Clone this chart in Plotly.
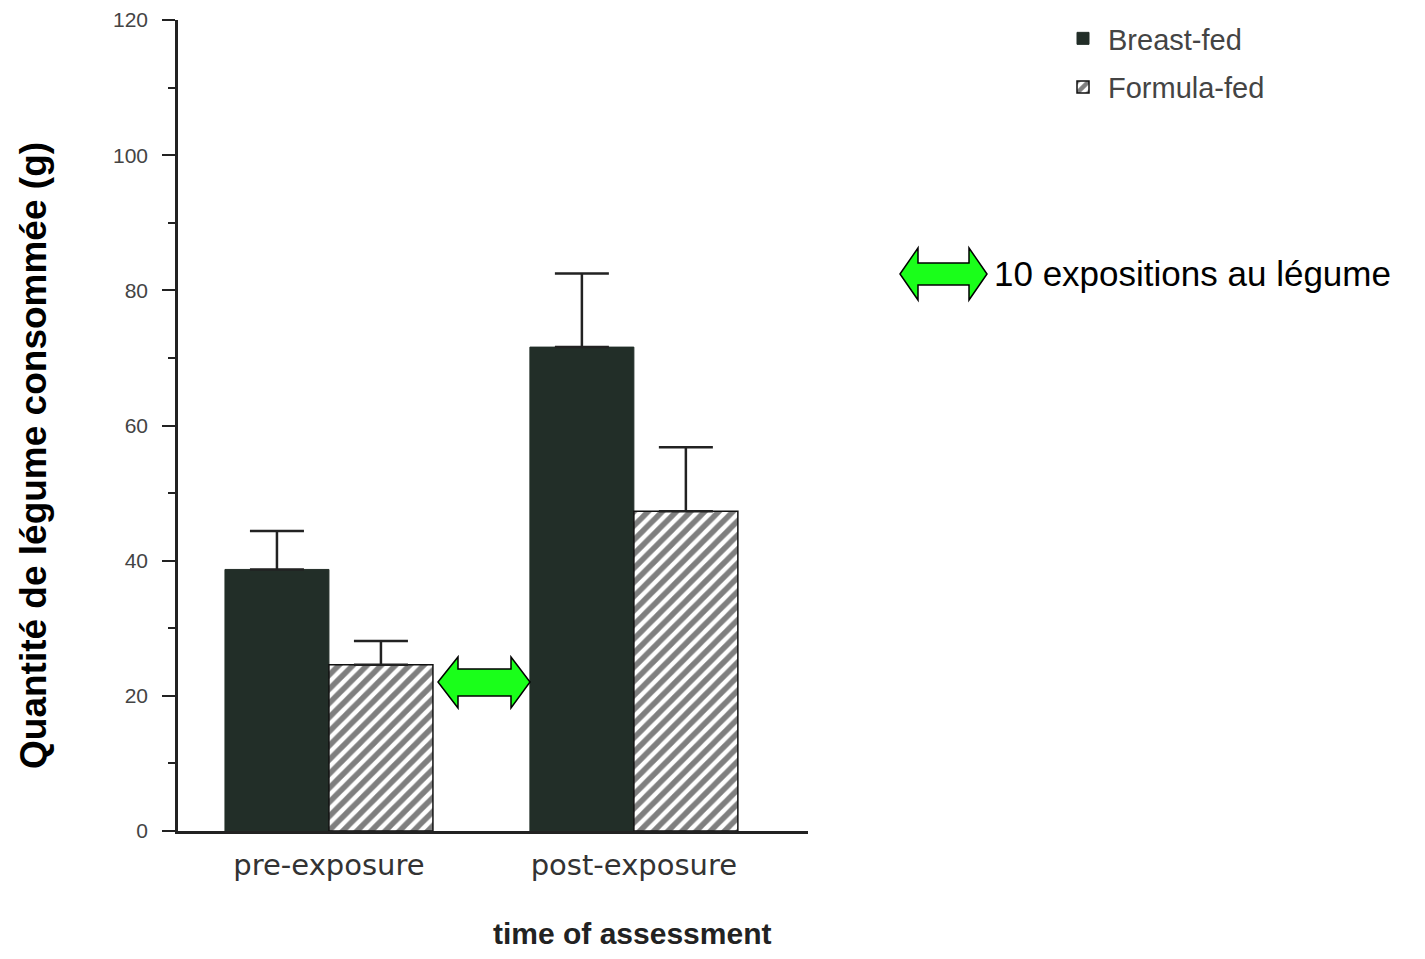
import plotly.graph_objects as go

# ---- data ----
categories = ["pre-exposure", "post-exposure"]
breast_fed = [38.7, 71.6]
breast_fed_err = [5.7, 10.9]
formula_fed = [24.6, 47.3]
formula_fed_err = [3.5, 9.5]
y_ticks = [0, 20, 40, 60, 80, 100, 120]

W, H = 1425, 959
OFF = 8  # default page body margin
L, R, T, B = 178, 808, 20, 831  # plot area in page pixels
FW, FH = W - 2 * OFF, H - 2 * OFF


def px(x):
    return (x - L) / (R - L)


def py(y):
    return (B - y) / (B - T)


def arrow_path(tl, bl, br, tr, top, st, sb, bot, cy):
    pts = [(tl, cy), (bl, top), (bl, st), (br, st), (br, top), (tr, cy),
           (br, bot), (br, sb), (bl, sb), (bl, bot)]
    return "M " + " L ".join(f"{px(a):.5f},{py(b):.5f}" for a, b in pts) + " Z"


bar_color = "#222e28"
fig = go.Figure()
fig.add_trace(go.Bar(
    x=categories, y=breast_fed, name="Breast-fed", legendgroup="bf",
    marker=dict(color=bar_color, line=dict(color=bar_color, width=1)),
    error_y=dict(type="data", array=breast_fed_err, arrayminus=[0, 0],
                 symmetric=False, color="#222", thickness=2.5, width=27),
))
fig.add_trace(go.Bar(
    x=categories, y=formula_fed, name="Formula-fed", legendgroup="ff",
    marker=dict(color="white", line=dict(color="#111", width=1.5),
                pattern=dict(shape="/", fgcolor="#000", bgcolor="white",
                             size=10, solidity=0.55)),
    error_y=dict(type="data", array=formula_fed_err, arrayminus=[0, 0],
                 symmetric=False, color="#222", thickness=2.5, width=27),
))

fig.update_layout(
    width=FW, height=FH,
    margin=dict(l=L - OFF, r=FW - (R - OFF), t=T - OFF, b=FH - (B - OFF),
                autoexpand=False),
    plot_bgcolor="white", paper_bgcolor="white",
    barmode="group", bargap=0.318, bargroupgap=0,
    font=dict(family="Liberation Sans, Arial", color="#333"),
    legend=dict(x=px(1058), y=py(13), xanchor="left", yanchor="top",
                font=dict(size=29, color="#444"), bgcolor="rgba(0,0,0,0)",
                tracegroupgap=8, itemwidth=40),
    showlegend=True,
)
fig.update_xaxes(
    range=[-0.495, 1.571], showline=True, linecolor="#222", linewidth=2.5,
    ticks="", tickfont=dict(family="DejaVu Sans", size=29, color="#333"),
    ticklabelstandoff=6, showgrid=False, zeroline=False,
)
fig.update_yaxes(
    range=[0, 120], tickvals=y_ticks, showline=True, linecolor="#222",
    linewidth=2.5, ticks="outside", ticklen=13, tickwidth=2, tickcolor="#222",
    tickfont=dict(size=21, color="#444"), ticklabelstandoff=10,
    showgrid=False, zeroline=False,
    minor=dict(dtick=10, ticks="outside", ticklen=7, tickwidth=2, tickcolor="#222"),
)

shapes = [
    dict(type="path", xref="paper", yref="paper",
         path=arrow_path(438, 458, 511, 530, 657, 669, 696, 708, 682),
         fillcolor="#1aff1a", line=dict(color="black", width=1.5)),
    dict(type="path", xref="paper", yref="paper",
         path=arrow_path(900, 918, 969, 987, 248, 263, 285, 300, 274),
         fillcolor="#1aff1a", line=dict(color="black", width=1.5)),
]
fig.update_layout(shapes=shapes)

fig.add_annotation(
    text="Quantité de légume consommée (g)", textangle=-90,
    x=px(33), y=py(456), xref="paper", yref="paper", showarrow=False,
    xanchor="center", yanchor="middle",
    font=dict(family="Liberation Sans, Arial", size=37, color="black", weight="bold"),
)
fig.add_annotation(
    text="time of assessment", x=px(632), y=py(933), xref="paper", yref="paper",
    showarrow=False, xanchor="center", yanchor="middle",
    font=dict(family="Liberation Sans, Arial", size=30, color="#222", weight="bold"),
)
fig.add_annotation(
    text="10 expositions au légume", x=px(992), y=py(273), xref="paper", yref="paper",
    showarrow=False, xanchor="left", yanchor="middle",
    font=dict(family="Liberation Sans, Arial", size=35, color="black"),
)

fig.write_html("out.html")
